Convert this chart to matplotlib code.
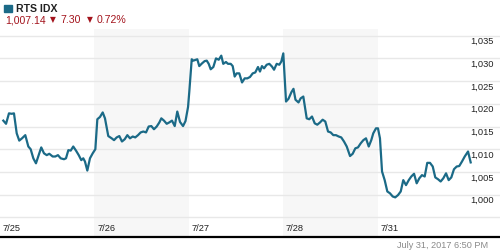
import matplotlib
matplotlib.use("Agg")
import matplotlib.pyplot as plt
from matplotlib import transforms
from matplotlib.lines import Line2D

plt.rcParams['font.family'] = ['Liberation Sans', 'DejaVu Sans']

# ---- data ----
title = "RTS IDX"
last_value = "1,007.14"
change = "7.30"
change_pct = "0.72%"
timestamp = "July 31, 2017 6:50 PM"
days = ["7/25", "7/26", "7/27", "7/28", "7/31"]
y_ticks = [1000, 1005, 1010, 1015, 1020, 1025, 1030, 1035]
y_tick_labels = ["1,000", "1,005", "1,010", "1,015", "1,020", "1,025", "1,030", "1,035"]

# time in trading-day units (0 = open of 7/25)
times = [
    0.035, 0.064, 0.095, 0.124, 0.148, 0.177, 0.204, 0.233, 0.268, 0.300,
    0.325, 0.353, 0.381, 0.410, 0.437, 0.466, 0.495, 0.522, 0.558, 0.586,
    0.614, 0.643, 0.678, 0.699, 0.724, 0.749, 0.776, 0.805, 0.834, 0.861,
    0.882, 0.900, 0.925, 0.953, 0.982, 1.010, 1.031, 1.059, 1.088, 1.112,
    1.147, 1.183, 1.208, 1.236, 1.264, 1.292, 1.321, 1.349, 1.377, 1.406,
    1.433, 1.462, 1.490, 1.518, 1.547, 1.575, 1.603, 1.631, 1.660, 1.688,
    1.709, 1.737, 1.766, 1.793, 1.822, 1.851, 1.878, 1.907, 1.939, 1.965,
    1.992, 2.005, 2.031, 2.048, 2.076, 2.090, 2.111, 2.140, 2.168, 2.190,
    2.211, 2.232, 2.260, 2.288, 2.317, 2.344, 2.365, 2.394, 2.415, 2.444,
    2.465, 2.486, 2.507, 2.535, 2.564, 2.592, 2.620, 2.648, 2.677, 2.704,
    2.733, 2.754, 2.775, 2.797, 2.825, 2.853, 2.881, 2.903, 2.931, 2.959,
    2.980, 3.001, 3.030, 3.056, 3.088, 3.109, 3.130, 3.162, 3.185, 3.213,
    3.249, 3.276, 3.305, 3.334, 3.361, 3.390, 3.418, 3.446, 3.475, 3.503,
    3.531, 3.559, 3.588, 3.615, 3.644, 3.673, 3.708, 3.736, 3.764, 3.792,
    3.821, 3.849, 3.877, 3.906, 3.933, 3.954, 3.983, 4.004, 4.025, 4.047,
    4.075, 4.103, 4.131, 4.160, 4.187, 4.216, 4.245, 4.272, 4.301, 4.330,
    4.357, 4.386, 4.414, 4.442, 4.470, 4.499, 4.526, 4.555, 4.584, 4.611,
    4.640, 4.668, 4.696, 4.725, 4.753, 4.781, 4.809, 4.838, 4.865, 4.894,
    4.923, 4.958, 4.986,
]
values = [
    1016.3, 1015.6, 1017.9, 1017.8, 1017.9, 1013.5, 1011.9, 1012.4, 1013.1, 1010.6,
    1010.0, 1008.0, 1006.9, 1008.7, 1010.4, 1009.1, 1008.7, 1009.0, 1008.4, 1008.4,
    1008.7, 1008.0, 1007.8, 1008.0, 1009.8, 1009.7, 1010.6, 1009.7, 1008.7, 1007.6,
    1008.0, 1007.3, 1005.3, 1008.0, 1009.1, 1010.0, 1016.6, 1017.1, 1018.1, 1016.8,
    1012.9, 1012.4, 1012.0, 1012.6, 1012.9, 1011.7, 1012.2, 1013.1, 1012.4, 1012.8,
    1012.6, 1013.1, 1013.7, 1013.9, 1013.7, 1015.0, 1015.1, 1014.4, 1015.0, 1015.9,
    1016.8, 1016.3, 1015.6, 1015.9, 1016.3, 1015.1, 1018.3, 1016.0, 1015.1, 1016.2,
    1019.3, 1022.6, 1029.8, 1029.5, 1029.7, 1029.8, 1028.3, 1028.9, 1029.4, 1029.5,
    1028.8, 1027.6, 1028.1, 1030.0, 1029.7, 1030.6, 1028.8, 1029.2, 1028.8, 1028.8,
    1028.3, 1026.0, 1026.7, 1026.7, 1024.7, 1025.6, 1025.6, 1025.9, 1026.7, 1026.9,
    1028.1, 1027.1, 1028.3, 1027.8, 1028.6, 1028.8, 1028.2, 1027.5, 1028.8, 1028.6,
    1029.3, 1031.1, 1020.5, 1021.1, 1022.6, 1023.3, 1020.9, 1020.3, 1021.2, 1021.6,
    1016.8, 1016.6, 1017.2, 1015.7, 1015.4, 1015.9, 1016.5, 1016.1, 1013.9, 1013.7,
    1013.1, 1013.1, 1012.8, 1012.6, 1011.7, 1010.6, 1008.5, 1009.0, 1010.2, 1010.4,
    1011.3, 1012.0, 1012.4, 1010.6, 1012.0, 1013.5, 1014.6, 1014.6, 1012.4, 1005.1,
    1003.2, 1000.7, 1000.3, 999.6, 999.4, 999.9, 1000.7, 1003.2, 1002.1, 1003.2,
    1004.0, 1004.6, 1002.5, 1003.6, 1004.3, 1004.0, 1007.0, 1007.0, 1006.2, 1003.8,
    1003.4, 1002.9, 1003.6, 1004.7, 1003.2, 1003.8, 1005.6, 1006.2, 1006.3, 1007.3,
    1008.4, 1009.5, 1007.1,
]

# ---- style ----
LINE_C = "#1b6a87"
RED = "#a3131c"
GRID_C = "#e8e8e8"
SHADE_C = "#f7f7f7"
DPI = 100
W, H = 500, 250
px_per_day = 94.4

fig = plt.figure(figsize=(W / DPI, H / DPI), dpi=DPI)
ax_top_px, ax_bot_px = 29.3, 236.0
ax = fig.add_axes([0, (H - ax_bot_px) / H, 1, (ax_bot_px - ax_top_px) / H])
ax.set_xlim(0, W / px_per_day)
ax.set_ylim(990.9, 1036.4)

# shaded alternate days
for i, d in enumerate(days):
    if i % 2 == 1:
        ax.axvspan(i, i + 1, color=SHADE_C, lw=0, zorder=0)

# gridlines
for v in [995] + y_ticks:
    ax.axhline(v, color=GRID_C, lw=1.0, zorder=1)

ax.plot(times, values, color=LINE_C, lw=1.6, zorder=3, solid_joinstyle='round')

# spines / ticks
for s in ax.spines.values():
    s.set_visible(False)
ax.set_xticks([])
ax.set_yticks([])
ax.patch.set_alpha(0)

# y labels (right, just below gridline)
lab_tr = transforms.offset_copy(ax.transData, fig=fig, x=0, y=-8.5, units='dots')
for v, lab in zip(y_ticks, y_tick_labels):
    ax.text((W - 6) / px_per_day, v, lab, transform=lab_tr, ha='right', va='baseline',
            fontsize=6.7, color='#222222')

# date labels
date_tr = transforms.blended_transform_factory(ax.transData, fig.transFigure)
date_off = transforms.offset_copy(date_tr, fig=fig, x=2.8, y=0, units='dots')
for i, d in enumerate(days):
    ax.text(i, (H - 230.7) / H, d, transform=date_off, ha='left', va='baseline',
            fontsize=6.7, color='#222222')

# bottom black rule
fig.add_artist(Line2D([0, 1], [(H - 236.5) / H] * 2, color='black', lw=1.6,
                      transform=fig.transFigure))

# header
def fx(px):
    return px / W

def fy(px):
    return (H - px) / H

fig.patches.append(plt.Rectangle((fx(4), fy(12.3)), 7.7 / W, 7.3 / H, color=LINE_C,
                                 transform=fig.transFigure, figure=fig))
fig.text(fx(16.5), fy(12.3), title, fontsize=7.6, fontweight='bold', color='#222222',
         ha='left', va='baseline')
fig.text(fx(5), fy(23.3), last_value, fontsize=7.6, color=RED, ha='left', va='baseline')
fig.text(fx(50), fy(21.8), "\u25BC", fontsize=5.5, color=RED, ha='left', va='baseline',
         family=['DejaVu Sans'])
fig.text(fx(60), fy(23.3), change, fontsize=7.6, color=RED, ha='left', va='baseline')
fig.text(fx(87.2), fy(21.8), "\u25BC", fontsize=5.5, color=RED, ha='left', va='baseline',
         family=['DejaVu Sans'])
fig.text(fx(96.5), fy(23.3), change_pct, fontsize=7.6, color=RED, ha='left', va='baseline')

fig.text(fx(488), fy(248), timestamp, fontsize=6.6, color='#8a8a8a', ha='right',
         va='baseline')

fig.savefig("out.png", dpi=DPI)
